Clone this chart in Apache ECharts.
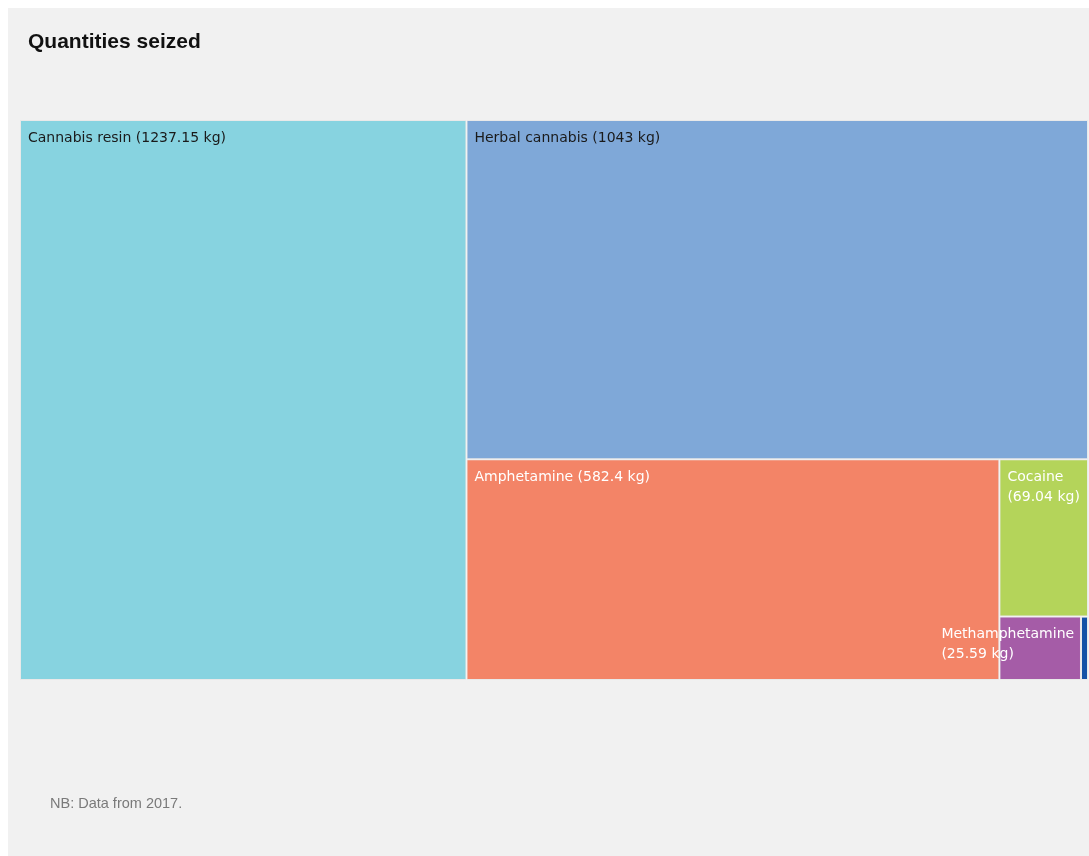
<!DOCTYPE html>
<html>
<head>
<meta charset="utf-8">
<title>Quantities seized</title>
<script src="https://cdn.jsdelivr.net/npm/echarts@6/dist/echarts.min.js"></script>
<style>
  html, body { margin: 0; padding: 0; background: #ffffff; }
  body { padding: 8px 0 0 8px; }
  #chart { width: 1081px; height: 848px; background: #f1f1f1; }
</style>
</head>
<body>
<div id="chart"></div>
<script>
// Seized quantities by drug type, in kilograms
const drugNames = ['Cannabis resin', 'Herbal cannabis', 'Amphetamine', 'Cocaine', 'Methamphetamine', 'Heroin'];
const quantitiesKg = [1237.15, 1043, 582.4, 69.04, 25.59, 2.2];
const cellColors = ['#87d3e0', '#7fa8d8', '#f38467', '#b4d45a', '#a55ca7', '#1452a6'];
const labelColors = ['#1a1a1a', '#1a1a1a', '#ffffff', '#ffffff', '#ffffff', '#ffffff'];

const chart = echarts.init(document.getElementById('chart'));

function leaf(i) {
  const name = drugNames[i];
  const item = {
    name: name,
    value: quantitiesKg[i],
    itemStyle: { color: cellColors[i], borderWidth: 1, borderColor: '#e9e9e9' },
    label: { color: labelColors[i] }
  };
  // narrow cells: name and quantity on two lines
  if (name === 'Cocaine' || name === 'Methamphetamine') {
    item.label.formatter = p => p.name + '\n(' + p.value + ' kg)';
    item.label.overflow = 'none';
  }
  if (name === 'Methamphetamine') {
    item.label.offset = [-66, 0];
  }
  if (name === 'Heroin') {
    item.label.show = false;
  }
  return item;
}

// Each item takes its own strip, the rest share the remaining space
function nest(i) {
  if (i === drugNames.length - 1) return [leaf(i)];
  const rest = nest(i + 1);
  const restValue = quantitiesKg.slice(i + 1).reduce((a, b) => a + b, 0);
  const group = rest.length === 1 ? rest[0] : {
    name: 'group' + i,
    value: restValue,
    itemStyle: { borderWidth: 0, gapWidth: 0, color: 'transparent' },
    label: { show: false },
    children: rest
  };
  return [leaf(i), group];
}

chart.setOption({
  animation: false,
  title: {
    text: 'Quantities seized',
    left: 15,
    top: 19,
    textStyle: {
      fontFamily: 'Liberation Sans, Arial, sans-serif',
      fontWeight: 'bold',
      fontSize: 21,
      color: '#111111'
    }
  },
  graphic: [{
    type: 'text',
    left: 42,
    top: 788,
    style: {
      text: 'NB: Data from 2017.',
      font: '14.5px "Liberation Sans", Arial, sans-serif',
      fill: '#7a7a7a'
    }
  }],
  series: [{
    type: 'treemap',
    left: 12,
    top: 112,
    width: 1068,
    height: 560,
    roam: false,
    nodeClick: false,
    sort: false,
    breadcrumb: { show: false },
    itemStyle: { borderWidth: 0, gapWidth: 0 },
    upperLabel: { show: false },
    label: {
      show: true,
      position: 'insideTopLeft',
      distance: 0,
      padding: [7, 7, 5, 7],
      fontFamily: 'DejaVu Sans, Verdana, sans-serif',
      fontSize: 14,
      lineHeight: 20,
      formatter: p => p.name + ' (' + p.value + ' kg)'
    },
    emphasis: { disabled: true },
    data: nest(0)
  }]
});
</script>
</body>
</html>
